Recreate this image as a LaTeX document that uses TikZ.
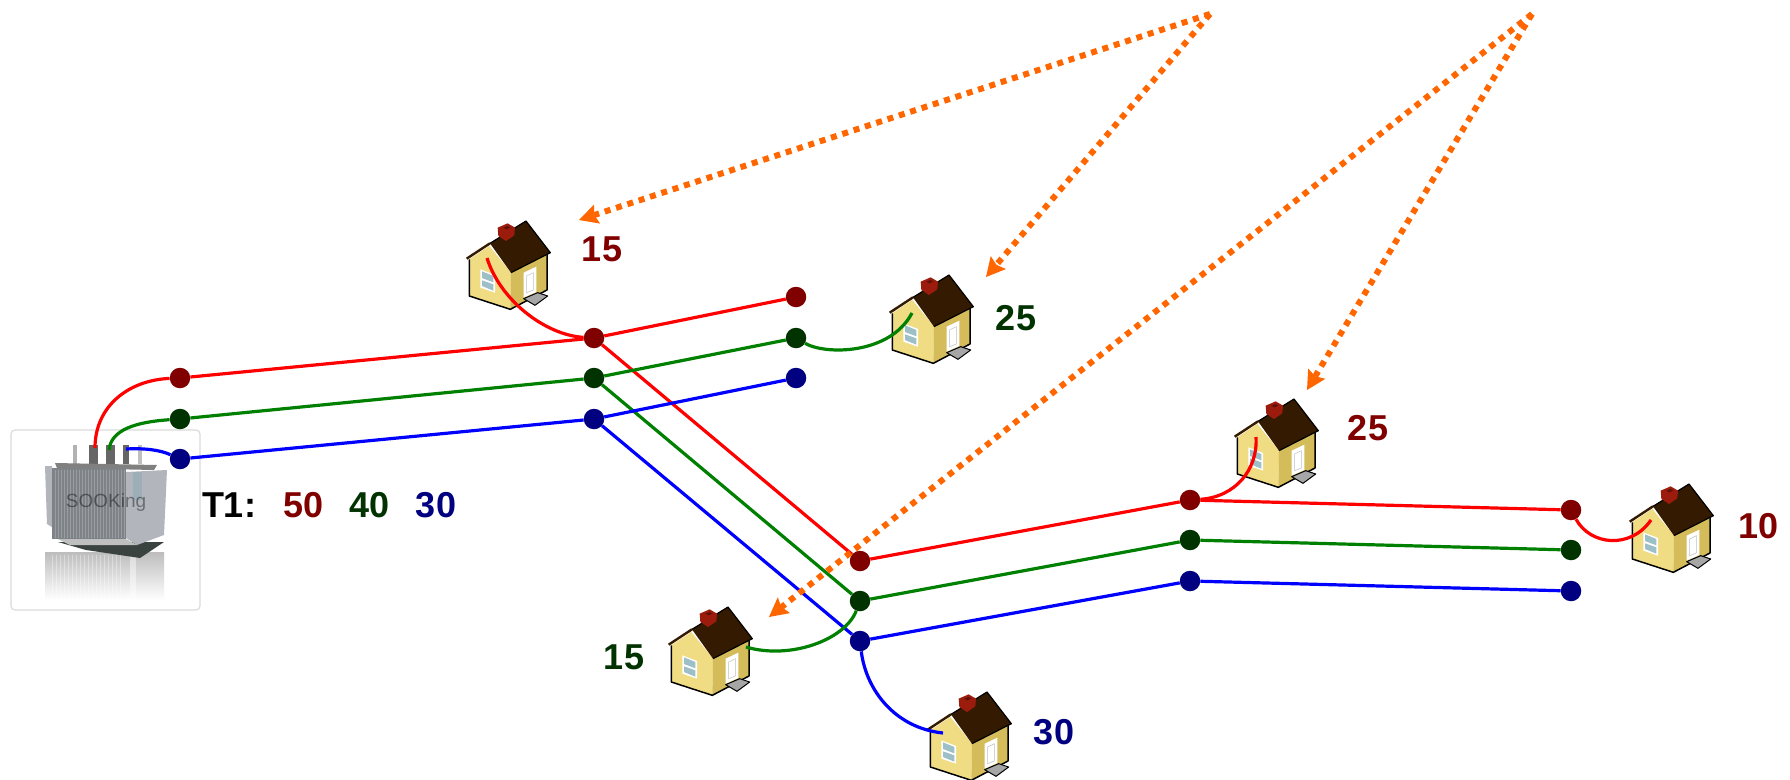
\documentclass[tikz,border=0pt]{standalone}
\usepackage{fontspec}
\setmainfont{Liberation Sans}
\usetikzlibrary{arrows.meta}
\definecolor{dred}{HTML}{800000}
\definecolor{dgreen}{HTML}{003300}
\definecolor{dblue}{HTML}{000080}
\definecolor{lred}{HTML}{FF0000}
\definecolor{lgreen}{HTML}{008000}
\definecolor{lblue}{HTML}{0000FF}
\definecolor{orng}{HTML}{FF6600}
\definecolor{wallA}{HTML}{F0DC82}
\definecolor{wallB}{HTML}{D4BC5A}
\definecolor{roofc}{HTML}{331A00}
\definecolor{chim}{HTML}{9B1C0C}
\definecolor{glass}{HTML}{9CBFC8}
\definecolor{fin}{HTML}{7E8388}
\definecolor{panel}{HTML}{B2B5BC}
\definecolor{basec}{HTML}{3B4340}
\tikzset{
  junction/.style={circle,inner sep=0pt,minimum size=20.5pt,fill=#1},
  wire/.style={line width=3.2pt,color=#1},
  feed/.style={line width=6pt,color=orng,dash pattern=on 6pt off 5.9pt,
    -{Stealth[length=19pt,width=20pt,inset=3pt,line width=0pt]}},
  value/.style={font=\fontsize{36}{36}\selectfont\bfseries,text=#1,inner sep=0pt},
  house/.pic={
    \begin{scope}[shift={(-8.33,-8.33)},scale=0.3333]
      \fill[wallA] (35,140)--(95,100)--(160,180)--(158,290)--(35,250)--cycle;
      \fill[wallB] (160,180)--(268,125)--(268,232)--(158,290)--cycle;
      \draw[black,line width=1.5pt,line join=round] (35,140)--(35,250)--(158,290)--(268,232)--(268,125);
      \fill[roofc] (97,92)--(205,25)--(278,120)--(160,180)--cycle;
      \draw[black,line width=1.2pt,line join=round] (97,92)--(205,25)--(278,120)--(160,180);
      \draw[roofc,line width=2.4pt] (27,138)--(97,92);
      \fill[white] (68,170)--(112,187)--(112,240)--(68,225)--cycle;
      \fill[glass] (73,176)--(107,190)--(107,209)--(73,196)--cycle;
      \fill[glass] (73,203)--(107,215)--(107,234)--(73,220)--cycle;
      \fill[white] (198,180)--(236,162)--(236,238)--(198,255)--cycle;
      \draw[black!25,line width=0.5pt] (207,190)--(207,240)--(227,232)--(227,180)--cycle;
      \fill[black!35,draw=black,line width=1pt,line join=round] (198,258)--(240,240)--(270,250)--(232,278)--cycle;
      \fill[chim] (120,45)--(150,32)--(172,45)--(170,68)--(145,85)--(122,70)--cycle;
      \fill[chim!60!black] (137,45)--(150,40)--(158,45)--(146,50)--cycle;
    \end{scope}
  }
}
\begin{document}
\begin{tikzpicture}[x=1pt,y=-1pt]
\useasboundingbox (0,0) rectangle (1790,779);
\fill[white] (0,0) rectangle (1790,779);

% transformer picture
\draw[black!14,line width=1.2pt,fill=white,rounded corners=4pt] (11,430) rectangle (200,610);
\shade[top color=black!26,bottom color=white] (45,552) rectangle (164,600);
\foreach \fx in {52,56,...,120}{\draw[white,opacity=.35,line width=1pt] (\fx,555)--(\fx,596);}
\fill[white,opacity=.45] (130,552) rectangle (136,600);
\shade[left color=white,right color=white,opacity=.0] (44,552) rectangle (45,553);
\fill[basec] (58,542)--(164,542)--(140,558)--(86,550)--cycle;
\foreach \bx/\bw/\bc in {75/4/black!30,93/9/black!60,110/9/black!60,126/6/black!60,140/4/black!25}{
  \fill[\bc] (\bx-\bw/2,445) rectangle (\bx+\bw/2,464);}
\fill[panel] (45,466) -- (52,466) -- (52,527) -- (47,524) -- cycle;
\fill[panel] (126,472)--(167,470)--(164,535)--(137,545)--(126,538)--cycle;
\fill[black!50] (55,463)--(157,465)--(154,470)--(57,468)--cycle;
\fill[fin] (52,468) rectangle (126,539);
\foreach \fx in {55,58,...,124}{\draw[white,opacity=.22,line width=1pt] (\fx,470)--(\fx,538);}
\fill[black!25] (58,539)--(126,539)--(137,545)--(70,545)--cycle;
\fill[cyan!35!gray,opacity=.35] (133,472) rectangle (142,500);
\node[font=\fontsize{19}{19}\selectfont,text=black,opacity=.4,inner sep=0pt] (brand) at (106,503) {SOOKing};

% houses
\pic at (466,221) {house};
\pic at (889,275) {house};
\pic at (1234,399) {house};
\pic at (1629,484) {house};
\pic at (668,607) {house};
\pic at (927,692) {house};

% junctions
\node[junction=dred]   (r1) at (180,378) {};
\node[junction=dgreen] (g1) at (180,419) {};
\node[junction=dblue]  (b1) at (180,459) {};
\node[junction=dred]   (r2) at (594,338) {};
\node[junction=dgreen] (g2) at (594,378) {};
\node[junction=dblue]  (b2) at (594,419) {};
\node[junction=dred]   (r3) at (796,297) {};
\node[junction=dgreen] (g3) at (796,338) {};
\node[junction=dblue]  (b3) at (796,378) {};
\node[junction=dred]   (r4) at (860,561) {};
\node[junction=dgreen] (g4) at (860,601) {};
\node[junction=dblue]  (b4) at (860,641) {};
\node[junction=dred]   (r5) at (1190,500) {};
\node[junction=dgreen] (g5) at (1190,540) {};
\node[junction=dblue]  (b5) at (1190,581) {};
\node[junction=dred]   (r6) at (1571,510) {};
\node[junction=dgreen] (g6) at (1571,550) {};
\node[junction=dblue]  (b6) at (1571,591) {};

% free ends
\coordinate (tr) at (95,448);
\coordinate (tg) at (109,450);
\coordinate (tb) at (126,449);
\coordinate (h1) at (487,258);
\coordinate (h2) at (912,313);
\coordinate (h3) at (1256,437);
\coordinate (h4) at (1651,520);
\coordinate (h5) at (746,647);
\coordinate (h6) at (943,733);
\coordinate (srcA) at (1210,14);
\coordinate (srcB) at (1532,14);
\coordinate (tip1) at (579,220);
\coordinate (tip2) at (986,277);
\coordinate (tip3) at (769,617);
\coordinate (tip4) at (1307,390);

% wires
\draw[wire=lred] (tr) .. controls (95,405) and (130,380) .. (r1);
\draw[wire=lgreen] (tg) .. controls (111,430) and (135,422) .. (g1);
\draw[wire=lblue] (tb) .. controls (145,448) and (160,450) .. (b1);
\draw[wire=lred] (r1)--(r2) (r2)--(r3) (r2)--(r4) (r4)--(r5) (r5)--(r6);
\draw[wire=lgreen] (g1)--(g2) (g2)--(g3) (g2)--(g4) (g4)--(g5) (g5)--(g6);
\draw[wire=lblue] (b1)--(b2) (b2)--(b3) (b2)--(b4) (b4)--(b5) (b5)--(b6);
\draw[wire=lred] (h1) .. controls (500,300) and (545,335) .. (r2);
\draw[wire=lgreen] (g3) .. controls (825,355) and (890,355) .. (h2);
\draw[wire=lred] (r5) .. controls (1235,497) and (1258,470) .. (h3);
\draw[wire=lred] (r6) .. controls (1590,545) and (1630,550) .. (h4);
\draw[wire=lgreen] (g4) .. controls (845,640) and (790,660) .. (h5);
\draw[wire=lblue] (b4) .. controls (866,690) and (895,728) .. (h6);

% orange arrows
\draw[feed] (srcA)--(tip1);
\draw[feed] (srcA)--(tip2);
\draw[feed] (srcB)--(tip3);
\draw[feed] (srcB)--(tip4);

% labels
\node[value=black] (t1) at (229,505) {T1:};
\node[value=dred] (v50) at (304,505) {50};
\node[value=dgreen] (v40) at (370,505) {40};
\node[value=dblue] (v30) at (436,505) {30};
\node[value=dred] (n15a) at (602,249) {15};
\node[value=dgreen] (n25a) at (1016,318) {25};
\node[value=dred] (n25b) at (1368,428) {25};
\node[value=dred] (n10) at (1758,526) {10};
\node[value=dgreen] (n15b) at (624,657) {15};
\node[value=dblue] (n30) at (1054,732) {30};
\end{tikzpicture}
\end{document}
